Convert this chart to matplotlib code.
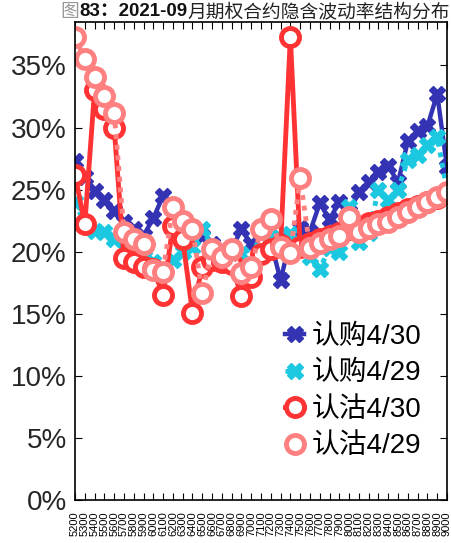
import numpy as np
import matplotlib
matplotlib.use("Agg")
import matplotlib.pyplot as plt
from matplotlib.ticker import PercentFormatter

plt.rcParams['font.family'] = ['Liberation Sans', 'Noto Sans CJK SC']

# ---- data (implied vol, %) ----
strikes = [str(k) for k in range(5200, 9001, 100)]

call_0430 = [27.3, 26.0, 24.9, 24.2, 23.3, 22.4, 21.8, 21.3, 22.7, 24.5,
             22.2, 21.6, 21.8, 21.3, 20.6, 20.2, 20.2, 21.8, 20.6, 21.5,
             20.8, 17.7, 21.0, 21.9, 21.6, 23.9, 22.6, 24.0, 23.2, 24.8,
             25.6, 26.4, 26.9, 25.6, 28.9, 29.7, 30.1, 32.7, 26.8]
call_0429 = [24.0, 22.2, 21.7, 21.6, 21.0, 20.3, 20.0, 19.6, 19.2, 18.6,
             19.3, 20.0, 20.4, 21.8, 20.4, 19.8, 19.6, 19.8, 19.0, 21.8,
             21.2, 20.8, 21.4, 20.6, 19.6, 18.6, 20.3, 20.0, 23.6, 20.8,
             21.5, 25.0, 24.2, 25.0, 27.4, 27.8, 28.6, 29.2, 25.0]
put_0430 = [26.2, 22.2, 33.0, 31.5, 30.0, 19.5, 19.2, 18.8, 18.6, 16.5,
            22.1, 21.0, 15.1, 18.8, 19.3, 19.2, 19.0, 16.4, 18.0, 19.8,
            20.2, 20.5, 37.3, 20.4, 20.7, 21.0, 21.3, 21.5, 21.8, 22.0,
            22.3, 22.5, 22.8, 23.1, 23.4, 23.7, 24.0, 24.3, 24.7]
put_0429 = [37.3, 35.5, 34.1, 32.5, 31.2, 21.6, 21.0, 20.6, 18.5, 18.4,
            23.6, 22.5, 21.8, 16.7, 20.2, 19.6, 20.2, 18.3, 18.8, 21.8,
            22.6, 20.4, 19.9, 25.9, 20.3, 20.7, 21.0, 21.3, 22.8, 21.6,
            21.9, 22.2, 22.4, 22.8, 23.2, 23.6, 24.0, 24.4, 24.8]

labels = ['认购4/30', '认购4/29', '认沽4/30', '认沽4/29']

W, H = 452, 543
fig = plt.figure(figsize=(W / 100, H / 100), dpi=100)
ax = fig.add_axes([75 / W, 1 - 500 / H, 372 / W, 478 / H])

x = np.arange(len(strikes))
ax.plot(x, call_0430, color='#3333B3', lw=3.2, ls='-', marker='X', ms=11,
        mec='#3333B3', label=labels[0])
ax.plot(x, call_0429, color='#1CC8E0', lw=3.5, ls=(0, (1, 1.2)), marker='X',
        ms=11, mec='#1CC8E0', label=labels[1])
ax.plot(x, put_0430, color='#FF3333', lw=3.5, ls='-', marker='o', ms=13,
        mfc='white', mec='#FF3333', mew=3.5, label=labels[2])
ax.plot(x, put_0429, color='#FF8080', lw=3.5, ls=(0, (1, 1.2)), marker='o',
        ms=13, mfc='white', mec='#FF8080', mew=3.5, label=labels[3])

ax.set_xlim(0, len(strikes) - 1)
ax.set_ylim(0, 38.5)
ax.set_yticks(np.arange(0, 36, 5))
ax.yaxis.set_major_formatter(PercentFormatter(decimals=0))
ax.set_xticks(x)
ax.set_xticklabels(strikes, rotation=90, fontsize=8)
ax.tick_params(axis='y', labelsize=20, labelcolor='#262626', direction='in',
               length=5, right=True, pad=6)
ax.tick_params(axis='x', direction='in', length=5, top=True, pad=8)
for s in ax.spines.values():
    s.set_linewidth(1.2)

leg = ax.legend(loc='lower right', bbox_to_anchor=(0.975, 0.05),
                frameon=False, fontsize=20, handlelength=0.7,
                handletextpad=0.25, labelspacing=0.38, borderaxespad=0.2,
                numpoints=1)

# title with a bold middle part
ttl_y = 1 - 12 / H
fig.canvas.draw()
r = fig.canvas.get_renderer()
t3 = fig.text(450 / W, ttl_y, '月期权合约隐含波动率结构分布', ha='right',
              va='center', fontsize=13.5, color='#222222')
bb = t3.get_window_extent(r)
t2 = fig.text(bb.x0 / W, ttl_y, '83：2021-09', ha='right', va='center',
              fontsize=13.5, fontweight='bold', color='#111111')
bb = t2.get_window_extent(r)
fig.text(bb.x0 / W, ttl_y, '图', ha='right', va='center', fontsize=13.5,
         color='#999999')

fig.savefig('out.png', dpi=100)
